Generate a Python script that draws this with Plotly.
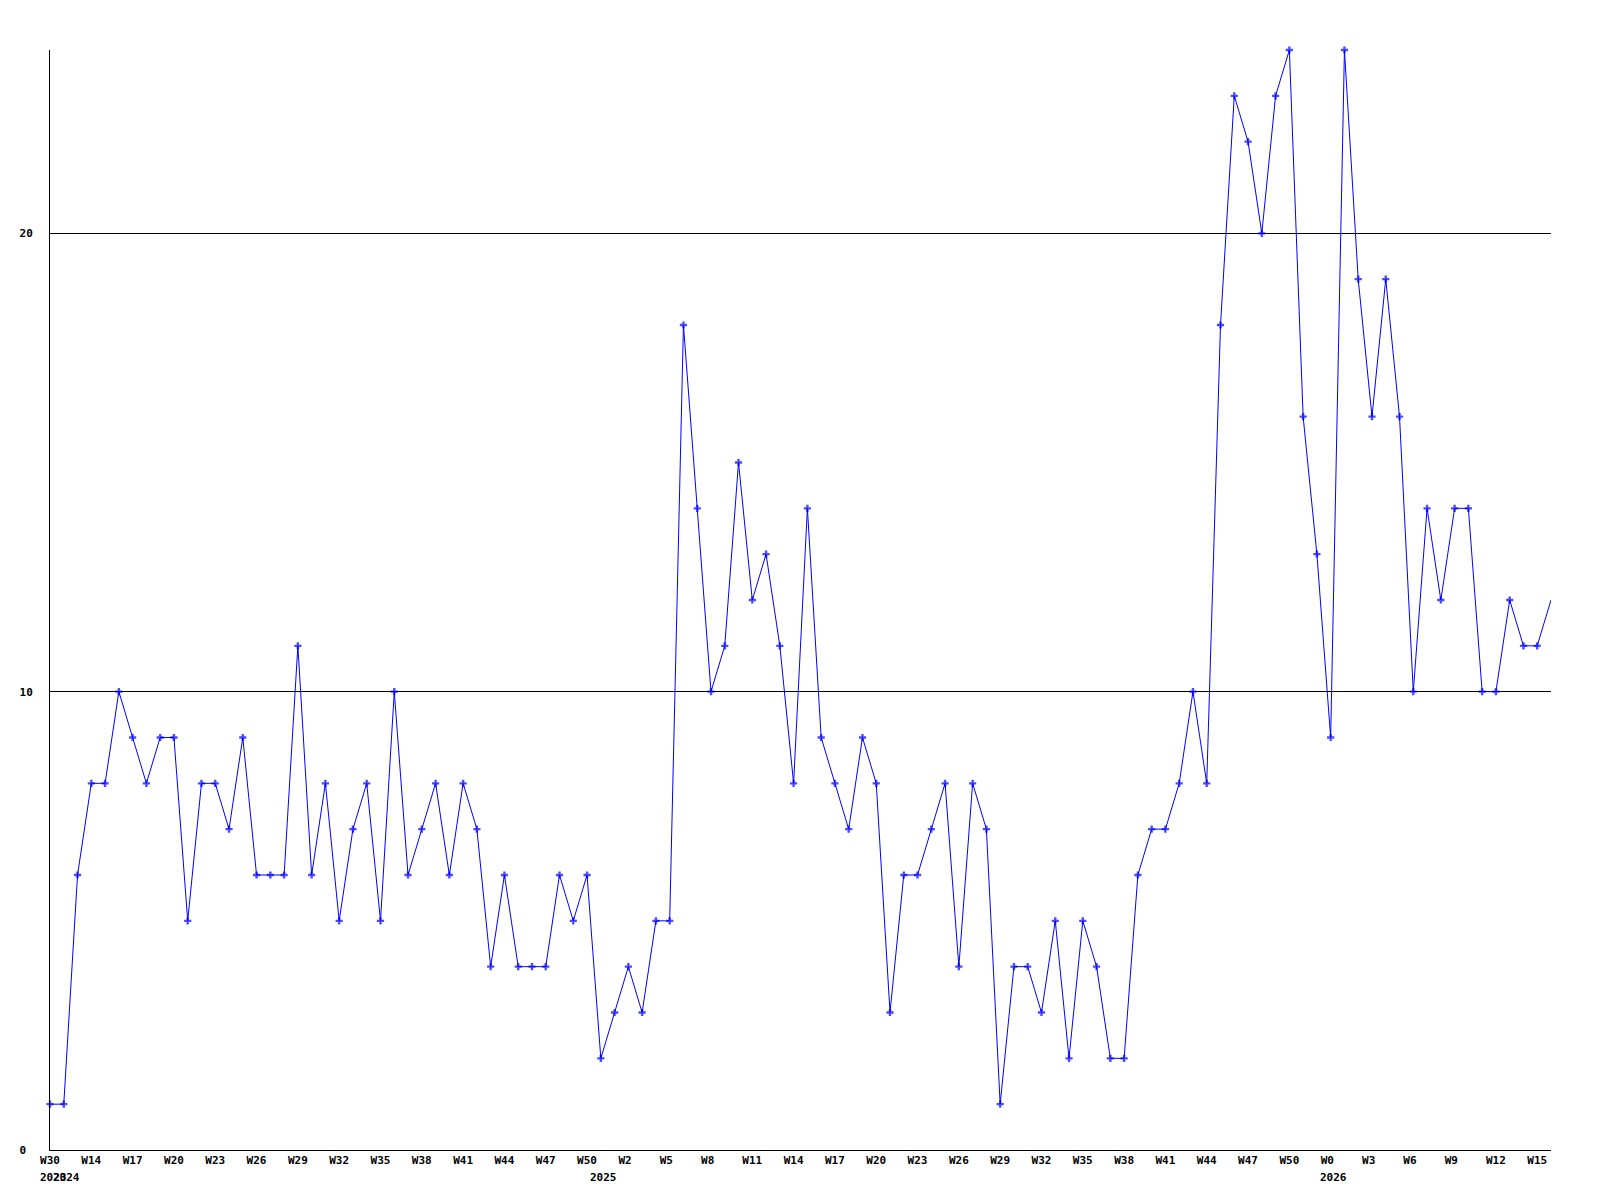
import plotly.graph_objects as go

# weekly counts, oldest first
values = [
    1, 1, 6, 8, 8, 10, 9, 8, 9, 9,
    5, 8, 8, 7, 9, 6, 6, 6, 11, 6,
    8, 5, 7, 8, 5, 10, 6, 7, 8, 6,
    8, 7, 4, 6, 4, 4, 4, 6, 5, 6,
    2, 3, 4, 3, 5, 5, 18, 14, 10, 11,
    15, 12, 13, 11, 8, 14, 9, 8, 7, 9,
    8, 3, 6, 6, 7, 8, 4, 8, 7, 1,
    4, 4, 3, 5, 2, 5, 4, 2, 2, 6,
    7, 7, 8, 10, 8, 18, 23, 22, 20, 23,
    24, 16, 13, 9, 24, 19, 16, 19, 16, 10,
    14, 12, 14, 14, 10, 10, 12, 11, 11, 12,
]

# week labels, one on every third point
week_ticks = [
    "W30", "W14", "W17", "W20", "W23", "W26", "W29", "W32", "W35", "W38",
    "W41", "W44", "W47", "W50", "W2", "W5", "W8", "W11", "W14", "W17",
    "W20", "W23", "W26", "W29", "W32", "W35", "W38", "W41", "W44", "W47",
    "W50", "W0", "W3", "W6", "W9", "W12", "W15",
]

# year labels and the point where each year starts
year_labels = ["2023", "2024", "2025", "2026"]
year_idx = [0, 1, 40, 93]

y_ticks = [0, 10, 20]

FONT = "DejaVu Sans Mono"
BLUE = "#0000ff"

x = list(range(len(values)))
tickvals = list(range(0, len(values), 3))[:len(week_ticks)]
# labels are left aligned in the original, pad short ones so they line up
ticktext = [t.ljust(3, "\u00a0") for t in week_ticks]
# last point sits on the right edge, no marker drawn there
marker_sizes = [6] * (len(values) - 1) + [0]

fig = go.Figure()
fig.add_trace(go.Scatter(
    x=x,
    y=values,
    mode="lines+markers",
    line=dict(color=BLUE, width=1),
    marker=dict(symbol="cross", size=marker_sizes, color=BLUE, line=dict(width=0)),
    cliponaxis=False,
    hoverinfo="x+y",
))

for label, idx in zip(year_labels, year_idx):
    fig.add_annotation(
        x=idx, y=0, xref="x", yref="paper",
        text=label, showarrow=False,
        xanchor="center", yanchor="middle", xshift=3, yshift=-27,
        font=dict(family=FONT, size=11, color="black", weight="bold"),
    )

# page body adds an 8px margin, so the figure is a bit smaller than the window
fig.update_layout(
    width=1592,
    height=1192,
    margin=dict(l=42, r=49, t=42, b=50),
    paper_bgcolor="white",
    plot_bgcolor="white",
    showlegend=False,
    font=dict(family=FONT, size=11, color="black"),
)
fig.update_xaxes(
    range=[0, len(values) - 1],
    tickvals=tickvals,
    ticktext=ticktext,
    tickangle=0,
    tickfont=dict(family=FONT, size=11, color="black", weight="bold"),
    showgrid=False,
    zeroline=False,
    showline=True,
    linecolor="black",
    linewidth=1,
    ticks="",
)
fig.update_yaxes(
    range=[0, 24],
    tickvals=y_ticks,
    ticktext=[str(v).ljust(2, "\u00a0") for v in y_ticks],
    tickfont=dict(family=FONT, size=11, color="black", weight="bold"),
    showgrid=True,
    gridcolor="black",
    gridwidth=1,
    zeroline=False,
    showline=True,
    linecolor="black",
    linewidth=1,
    ticks="",
    ticklabelstandoff=14,
)

fig.write_html("out.html")
